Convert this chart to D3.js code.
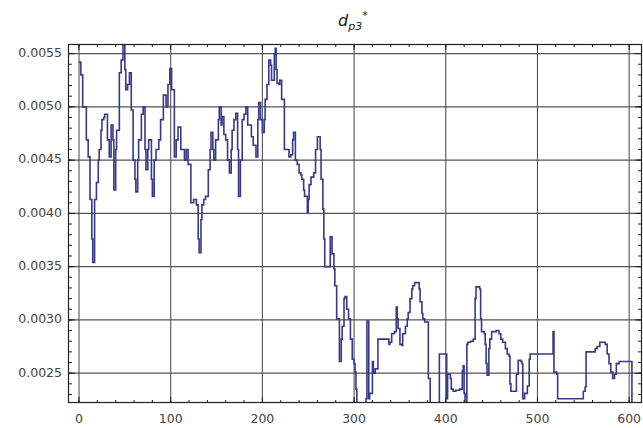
<!DOCTYPE html>
<html>
<head>
<meta charset="utf-8">
<script src="https://cdn.jsdelivr.net/npm/d3@7"></script>
<style>
	body { margin: 0; background: #fff; }
	text { font-family: "DejaVu Sans", sans-serif; }
</style>
</head>
<body>
<svg id="chart" width="643" height="428"></svg>
<script>
// sample index of each step
const steps = [
	0, 2, 4, 8, 10, 12, 14, 15, 17, 19, 21, 22, 24, 25, 27, 28, 31, 33, 35, 37,
	38, 40, 41, 44, 46, 48, 50, 51, 53, 55, 57, 59, 61, 62, 64, 65, 68, 70, 72, 73,
	75, 76, 79, 80, 82, 84, 87, 89, 92, 95, 97, 99, 101, 104, 106, 108, 111, 115, 117, 119,
	122, 125, 128, 130, 131, 133, 134, 136, 138, 141, 143, 144, 146, 147, 149, 152, 153, 155, 156, 158,
	160, 162, 164, 166, 167, 169, 171, 173, 174, 176, 178, 180, 182, 184, 188, 190, 193, 195, 196, 198,
	200, 202, 203, 205, 207, 209, 210, 213, 214, 215, 216, 218, 219, 221, 224, 226, 229, 231, 233, 234,
	236, 238, 240, 242, 243, 245, 246, 249, 250, 251, 253, 256, 258, 260, 262, 263, 264, 266, 267, 268,
	270, 273, 274, 276, 278, 279, 281, 284, 286, 287, 289, 290, 292, 294, 296, 298, 300, 301, 302, 303,
	306, 312, 313, 314, 315, 316, 317, 320, 321, 323, 326, 329, 333, 336, 338, 339, 341, 344, 346, 347,
	348, 350, 352, 353, 356, 358, 359, 361, 363, 364, 366, 369, 371, 372, 374, 375, 377, 380, 381, 383,
	390, 393, 397, 399, 401, 402, 405, 406, 408, 411, 415, 418, 419, 420, 421, 423, 424, 427, 430, 432,
	433, 436, 437, 438, 439, 442, 443, 444, 445, 447, 448, 450, 455, 458, 460, 462, 465, 467, 469, 470,
	471, 474, 477, 479, 482, 483, 484, 486, 489, 491, 492, 515, 517, 518, 521, 522, 546, 550, 552, 553,
	561, 563, 565, 568, 571, 574, 576, 578, 580, 582, 584, 586, 589, 601, 603
];

// d_p3* values (x1e-4)
const dp3 = [
	54.2, 53.0, 50.0, 46.9, 45.3, 41.3, 37.6, 35.4, 41.3, 42.9, 45.0, 46.0, 47.8, 48.8, 49.0, 49.3, 46.9, 45.3, 48.3, 46.9,
	42.2, 46.0, 47.8, 53.2, 54.4, 56.0, 53.5, 51.6, 52.1, 53.2, 49.7, 45.0, 43.2, 42.0, 45.0, 46.9, 49.3, 50.0, 46.0, 44.1,
	46.0, 46.9, 43.2, 41.6, 45.0, 46.0, 46.9, 48.8, 51.1, 50.0, 52.1, 53.6, 51.6, 45.3, 46.9, 48.1, 46.0, 45.0, 46.0, 44.6,
	41.0, 41.3, 40.8, 37.6, 36.3, 39.4, 40.8, 41.3, 41.6, 44.1, 46.0, 47.6, 46.0, 45.0, 46.9, 48.8, 50.0, 48.3, 49.1, 47.4,
	46.9, 45.0, 43.8, 46.0, 47.8, 48.8, 49.4, 46.0, 41.6, 45.0, 48.8, 49.3, 50.0, 48.3, 47.2, 46.4, 45.3, 48.8, 50.4, 48.8,
	47.6, 48.8, 50.7, 52.1, 54.4, 53.9, 52.5, 54.9, 55.5, 53.5, 52.2, 52.1, 52.5, 50.7, 46.0, 46.0, 45.3, 45.5, 46.9, 47.6,
	45.0, 44.6, 43.8, 43.6, 43.2, 42.2, 41.6, 40.1, 41.3, 42.7, 43.4, 43.8, 46.0, 47.2, 47.2, 46.0, 43.2, 40.4, 37.6, 35.0,
	35.0, 35.0, 37.8, 36.2, 34.8, 33.2, 30.1, 26.1, 28.2, 29.4, 32.0, 32.2, 31.0, 30.1, 28.2, 26.3, 25.9, 25.1, 23.5, 21.5,
	21.5, 21.5, 22.6, 29.9, 29.9, 22.6, 23.1, 26.1, 25.0, 25.4, 28.2, 28.2, 28.2, 28.2, 27.7, 27.9, 28.7, 28.9, 31.2, 30.1,
	29.2, 27.7, 27.6, 28.7, 29.4, 30.1, 30.7, 32.0, 32.9, 33.2, 33.5, 33.5, 32.9, 31.7, 30.6, 30.1, 29.8, 29.8, 24.5, 21.5,
	21.5, 26.8, 26.8, 26.8, 22.6, 24.9, 24.5, 23.5, 23.3, 23.4, 23.5, 25.2, 25.7, 23.1, 21.5, 27.7, 27.9, 28.0, 28.2, 32.0,
	33.1, 33.1, 32.9, 30.1, 28.9, 28.7, 27.7, 25.9, 24.8, 27.3, 28.2, 28.9, 29.0, 28.7, 28.2, 27.9, 27.3, 26.8, 26.6, 24.0,
	23.3, 23.3, 24.9, 26.2, 26.1, 25.9, 22.6, 23.1, 23.8, 26.3, 26.8, 26.8, 28.9, 25.1, 24.9, 22.6, 22.6, 23.3, 23.7, 27.0,
	27.0, 27.3, 27.5, 27.9, 27.9, 27.7, 26.8, 25.9, 25.1, 24.5, 24.9, 25.9, 26.1, 26.1, 21.5
];

const xTicks = [0, 100, 200, 300, 400, 500, 600],
	yTicks = [0.0025, 0.0030, 0.0035, 0.0040, 0.0045, 0.0050, 0.0055];

const width = 643, height = 428,
	margin = { top: 44, right: 1, bottom: 25, left: 68 };

const svg = d3.select('#chart');

const x = d3.scaleLinear().domain([-12, 614]).range([margin.left, width - margin.right]),
	y = d3.scaleLinear().domain([0.00222, 0.00559]).range([height - margin.bottom, margin.top]);

const points = steps.map((s, i) => ({ x: s, y: dp3[i] * 1e-4 }));

svg.append('clipPath').attr('id', 'plot-clip')
	.append('rect')
	.attr('x', margin.left).attr('y', margin.top)
	.attr('width', width - margin.left - margin.right)
	.attr('height', height - margin.top - margin.bottom);

// grid
svg.append('g')
	.selectAll('line').data(xTicks).join('line')
	.attr('x1', d => x(d)).attr('x2', d => x(d))
	.attr('y1', margin.top).attr('y2', height - margin.bottom)
	.attr('stroke', '#555').attr('stroke-width', 1.1);

svg.append('g')
	.selectAll('line').data(yTicks).join('line')
	.attr('x1', margin.left).attr('x2', width - margin.right)
	.attr('y1', d => y(d)).attr('y2', d => y(d))
	.attr('stroke', '#555').attr('stroke-width', 1.1);

// series
svg.append('path')
	.datum(points)
	.attr('clip-path', 'url(#plot-clip)')
	.attr('fill', 'none')
	.attr('stroke', '#38388a')
	.attr('stroke-width', 1.6)
	.attr('d', d3.line().x(d => x(d.x)).y(d => y(d.y)).curve(d3.curveStepAfter));

// frame with inward ticks on all sides
const frame = svg.append('g').attr('stroke', '#222');

frame.append('rect')
	.attr('x', margin.left + 0.5).attr('y', margin.top + 0.5)
	.attr('width', width - margin.left - margin.right - 1)
	.attr('height', height - margin.top - margin.bottom - 1)
	.attr('fill', 'none').attr('stroke-width', 1.2);

const xMinor = d3.range(-0, 620, 20),
	yMinor = d3.range(23, 56, 1).map(d => d * 1e-4);

function xTickMarks(list, len) {
	const yb = height - margin.bottom, yt = margin.top;
	frame.append('g').selectAll('line').data(list).join('line')
		.attr('x1', d => x(d)).attr('x2', d => x(d))
		.attr('y1', yb).attr('y2', yb - len);
	frame.append('g').selectAll('line').data(list).join('line')
		.attr('x1', d => x(d)).attr('x2', d => x(d))
		.attr('y1', yt).attr('y2', yt + len);
}

function yTickMarks(list, len) {
	const xl = margin.left, xr = width - margin.right;
	frame.append('g').selectAll('line').data(list).join('line')
		.attr('x1', xl).attr('x2', xl + len)
		.attr('y1', d => y(d)).attr('y2', d => y(d));
	frame.append('g').selectAll('line').data(list).join('line')
		.attr('x1', xr).attr('x2', xr - len)
		.attr('y1', d => y(d)).attr('y2', d => y(d));
}

xTickMarks(xMinor.filter(d => d <= 610), 3);
xTickMarks(xTicks, 6);
yTickMarks(yMinor, 4);
yTickMarks(yTicks, 7);

// tick labels
svg.append('g')
	.selectAll('text').data(xTicks).join('text')
	.attr('x', d => x(d)).attr('y', height - 5)
	.attr('text-anchor', 'middle')
	.attr('font-size', 12.5).attr('fill', '#444')
	.text(d => d);

svg.append('g')
	.selectAll('text').data(yTicks).join('text')
	.attr('x', margin.left - 6).attr('y', d => y(d) - 1)
	.attr('dy', '0.35em')
	.attr('text-anchor', 'end')
	.attr('font-size', 12.5).attr('fill', '#444')
	.text(d => d3.format('.4f')(d));

// title d_p3*
const title = svg.append('text')
	.attr('x', 338).attr('y', 26)
	.attr('font-size', 16).attr('font-style', 'italic')
	.attr('font-family', '"DejaVu Serif", serif')
	.attr('fill', '#222');
title.append('tspan').text('d');
title.append('tspan').attr('font-size', 11).attr('dy', 4).text('p3');
title.append('tspan').attr('font-size', 11).attr('dy', -11).text('*');
</script>
</body>
</html>
